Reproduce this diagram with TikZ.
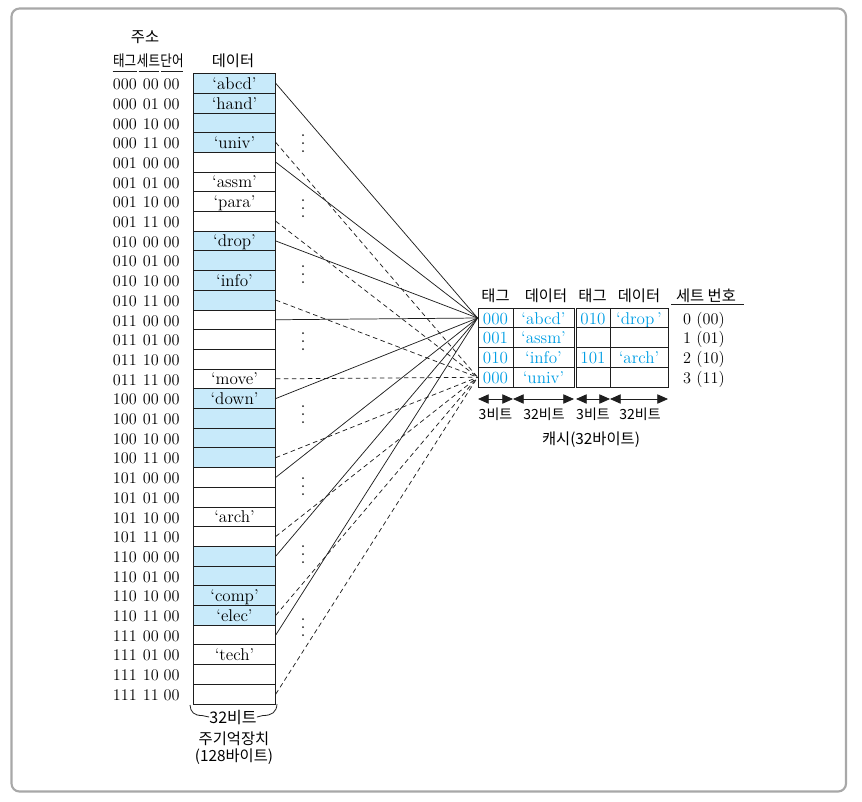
\documentclass[tikz,border=0pt]{standalone}
\usepackage{fontspec}
\newfontfamily\kr{Noto Sans CJK KR}
\usetikzlibrary{arrows.meta,calc}
\definecolor{memblue}{RGB}{200,234,250}
\definecolor{cyantext}{RGB}{0,158,228}
\definecolor{framegray}{RGB}{168,168,168}
\definecolor{ink}{RGB}{30,30,30}
\newcommand\celltxt[1]{\ifcase#1 `abcd'\or `hand'\or\or `univ'\or\or `assm'\or `para'\or\or `drop'\or\or `info'\or\or\or\or\or `move'\or `down'\or\or\or\or\or\or `arch'\or\or\or\or `comp'\or `elec'\or\or `tech'\or\or\fi}
\newcommand\threebits[1]{\ifcase#1 000\or 001\or 010\or 011\or 100\or 101\or 110\or 111\fi}
\newcommand\twobits[1]{\ifcase#1 00\or 01\or 10\or 11\fi}
\begin{document}
\begin{tikzpicture}[x=0.75pt,y=-0.75pt,
  serif/.style={font=\fontsize{12.2}{14}\selectfont},
  dserif/.style={font=\fontsize{12.8}{14}\selectfont},
  memcell/.style={draw=ink, line width=0.6pt, minimum width=61.3pt, minimum height=14.78pt,
    inner sep=0pt, text height=11pt, text depth=2pt, dserif},
  cachecell/.style={draw=ink, line width=0.6pt, minimum height=14.8pt,
    inner sep=0pt, text height=11pt, text depth=2pt, dserif, text=cyantext},
  addr/.style={anchor=base, inner sep=0pt, serif},
  setno/.style={inner sep=0pt, text height=11pt, text depth=2pt, serif},
  krlabel/.style={inner sep=0pt, font=\kr\fontsize{11.5}{13}\selectfont},
  krsmall/.style={inner sep=0pt, font=\kr\fontsize{10.5}{12}\selectfont},
  conn/.style={ink, line width=0.55pt},
  dconn/.style={ink, line width=0.55pt, dash pattern=on 3.5pt off 2.5pt},
  dimarrow/.style={ink, line width=0.6pt, {Triangle[length=8pt,width=7pt]}-{Triangle[length=8pt,width=7pt]}},
  uline/.style={ink, line width=0.6pt}
]
\useasboundingbox (0,0) rectangle (862,801);
\draw[framegray, line width=1.6pt, rounded corners=6pt] (11.5,8.5) rectangle (846,791.5);

% headers
\node[krlabel] (hAddr) at (145,37) {주소};
\node[krlabel] (hTag) at (124.7,61) {\scalebox{0.82}[1]{태그}};
\node[krlabel] (hSet) at (148.5,61) {\scalebox{0.82}[1]{세트}};
\node[krlabel] (hWord) at (172,61) {\scalebox{0.82}[1]{단어}};
\coordinate (u1a) at (112.7,71); \coordinate (u1b) at (136.7,71);
\coordinate (u2a) at (138.5,71); \coordinate (u2b) at (159.3,71);
\coordinate (u3a) at (161,71); \coordinate (u3b) at (182.7,71);
\draw[uline] (u1a) -- (u1b); \draw[uline] (u2a) -- (u2b); \draw[uline] (u3a) -- (u3b);
\node[krlabel] (hData) at (233,61) {데이터};

% memory
\foreach \i in {0,...,31}{
  \pgfmathsetmacro\yy{83.35+19.7*\i}
  \pgfmathtruncatemacro\blk{mod(int(\i/4),2)}
  \pgfmathtruncatemacro\tg{int(\i/4)}
  \pgfmathtruncatemacro\st{mod(\i,4)}
  \ifnum\blk=0 \def\fc{memblue}\else\def\fc{white}\fi
  \node[memcell, fill=\fc] (m\i) at (234.5,\yy) {\celltxt{\i}};
  \node[addr] (at\i) at (124.8,\yy+6.3) {\threebits{\tg}};
  \node[addr] (as\i) at (150.8,\yy+6.3) {\twobits{\st}};
  \node[addr] (aw\i) at (171.6,\yy+6.3) {00};
}

% vertical dots
\foreach \yc in {143,208,274,341,414,486,554,627}{
  \foreach \dd in {-8,0,8}{
    \fill[ink] (303,\yc+\dd) circle[radius=0.75pt];
  }
}

% cache table
\foreach \j/\ta/\da/\tb/\db in {0/000/{`abcd'}/010/{`drop\,'},1/001/{`assm'}/{}/{},2/010/{`info'}/101/{`arch'},3/000/{`univ'}/{}/{}}{
  \pgfmathsetmacro\cy{318+19.75*\j}
  \node[cachecell, minimum width=26.25pt] (t\j) at (495.5,\cy) {\ta};
  \node[cachecell, minimum width=45.75pt] (d\j) at (543.5,\cy) {\da};
  \node[cachecell, minimum width=25.5pt] (u\j) at (593,\cy) {\tb};
  \node[cachecell, minimum width=43.5pt] (e\j) at (639,\cy) {\db};
}
\node[krlabel] (cT1) at (495.5,295.5) {태그};
\node[krlabel] (cD1) at (546,295.5) {데이터};
\node[krlabel] (cT2) at (592.5,295.5) {태그};
\node[krlabel] (cD2) at (639,295.5) {데이터};
\node[krlabel] (cS) at (706,295.5) {세트 번호};
\coordinate (su1) at (671,304); \coordinate (su2) at (744,304);
\draw[uline] (su1) -- (su2);
\foreach \j/\s in {0/{0 (00)},1/{1 (01)},2/{2 (10)},3/{3 (11)}}{
  \pgfmathsetmacro\cy{318+19.75*\j}
  \node[setno] (s\j) at (704,\cy) {\s};
}

% dimension arrows
\coordinate (a0) at (478,399); \coordinate (a1) at (513,399);
\coordinate (a2) at (574,399); \coordinate (a3) at (576,399);
\coordinate (a4) at (610,399); \coordinate (a5) at (668,399);
\draw[dimarrow] (a0) -- (a1);
\draw[dimarrow] (a1) -- (a2);
\draw[dimarrow] (a3) -- (a4);
\draw[dimarrow] (a4) -- (a5);
\node[krsmall] (b1) at (495.5,414) {3비트};
\node[krsmall] (b2) at (544,414) {32비트};
\node[krsmall] (b3) at (593,414) {3비트};
\node[krsmall] (b4) at (640,414) {32비트};
\node[krlabel] (cache) at (591,440) {캐시(32바이트)};

% connectors
\foreach \i in {0,4,...,28}{ \draw[conn] (m\i.east) -- (t0.west); }
\foreach \i in {3,7,...,31}{ \draw[dconn] (m\i.east) -- (t3.west); }

% bottom brace and labels
\node[krlabel, font=\kr\fontsize{12}{14}\selectfont] (w32) at (233,717) {32비트};
\coordinate (bl) at (190,705); \coordinate (br) at (277,704);
\draw[ink, line width=0.6pt] (bl) .. controls (190.5,712) and (194,715.5) .. (202,715.5) -- (w32.west);
\draw[ink, line width=0.6pt] (w32.east) -- (263,715.5) .. controls (272,715.5) and (276.5,712) .. (br);
\node[krlabel] (mm) at (234,739) {주기억장치};
\node[krlabel] (mm2) at (234,757) {(128바이트)};
\end{tikzpicture}
\end{document}
